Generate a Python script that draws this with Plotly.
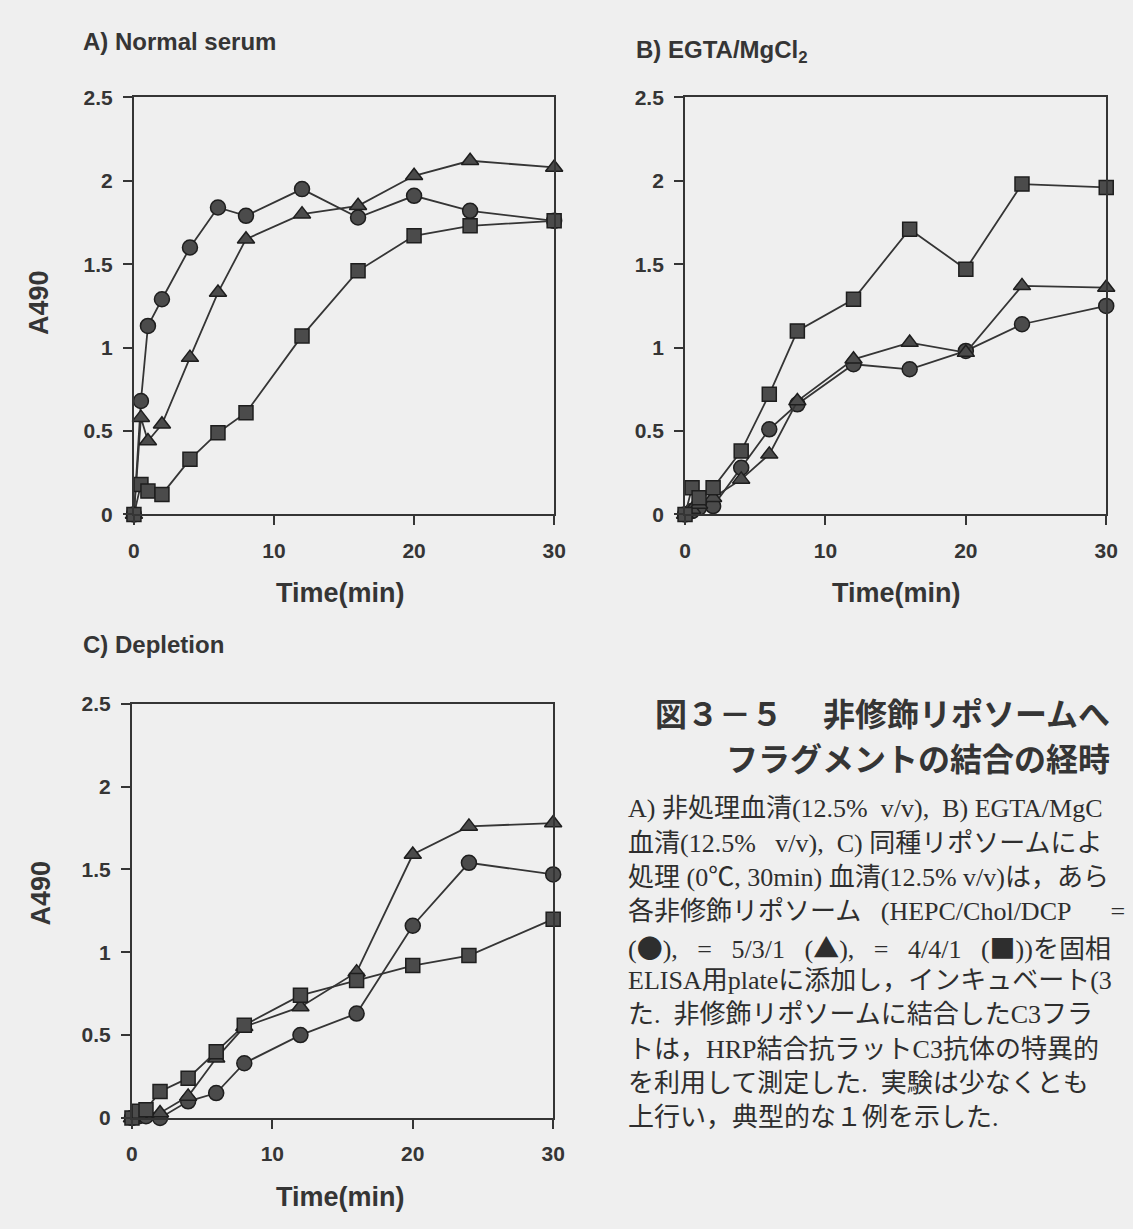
import plotly.graph_objects as go

# ---------------- data ----------------
time_min = [0, 0.5, 1, 2, 4, 6, 8, 12, 16, 20, 24, 30]

# A) Normal serum
a_circle = [0, 0.68, 1.13, 1.29, 1.60, 1.84, 1.79, 1.95, 1.78, 1.91, 1.82, 1.76]
a_triangle = [0, 0.58, 0.44, 0.54, 0.94, 1.33, 1.65, 1.80, 1.85, 2.03, 2.12, 2.08]
a_square = [0, 0.18, 0.14, 0.12, 0.33, 0.49, 0.61, 1.07, 1.46, 1.67, 1.73, 1.76]

# B) EGTA/MgCl2
b_circle = [0, 0.02, 0.04, 0.05, 0.28, 0.51, 0.66, 0.90, 0.87, 0.98, 1.14, 1.25]
b_triangle = [0, 0.03, 0.06, 0.10, 0.21, 0.36, 0.68, 0.93, 1.03, 0.97, 1.37, 1.36]
b_square = [0, 0.16, 0.10, 0.16, 0.38, 0.72, 1.10, 1.29, 1.71, 1.47, 1.98, 1.96]

# C) Depletion
c_circle = [0, 0.01, 0.01, 0.0, 0.10, 0.15, 0.33, 0.50, 0.63, 1.16, 1.54, 1.47]
c_triangle = [0, 0.02, 0.03, 0.03, 0.13, 0.36, 0.55, 0.67, 0.88, 1.59, 1.76, 1.78]
c_square = [0, 0.04, 0.05, 0.16, 0.24, 0.40, 0.56, 0.74, 0.83, 0.92, 0.98, 1.20]

x_ticks = [0, 10, 20, 30]
y_ticks = [0, 0.5, 1, 1.5, 2, 2.5]
y_ticktext = ["0", "0.5", "1", "1.5", "2", "2.5"]

panel_titles = ["A) Normal serum", "B) EGTA/MgCl<sub>2</sub>", "C) Depletion"]
x_title = "Time(min)"
y_title = "A490"

fig_title_head = "図３－５"
fig_title_1 = "非修飾リポソームへ"
fig_title_2 = "フラグメントの結合の経時"

NB = "\u00a0"
SYM = '<span style="font-family:Noto Sans CJK JP">{}</span>'
caption_lines = [
    "A)" + NB + "非処理血清(12.5%" + NB * 2 + "v/v)," + NB * 2 + "B)" + NB + "EGTA/MgC",
    "血清(12.5%" + NB * 3 + "v/v)," + NB * 2 + "C)" + NB + "同種リポソームによ",
    "処理 (0℃, 30min) 血清(12.5% v/v)は，あら",
    "各非修飾リポソーム" + NB * 3 + "(HEPC/Chol/DCP" + NB * 6 + "=",
    "(" + SYM.format("●") + ")," + NB * 3 + "=" + NB * 3 + "5/3/1" + NB * 3
    + "(" + SYM.format("▲") + ")," + NB * 3 + "=" + NB * 3 + "4/4/1" + NB * 3
    + "(" + SYM.format("■") + "))を固相",
    "ELISA用plateに添加し，インキュベート(3",
    "た." + NB * 2 + "非修飾リポソームに結合したC3フラ",
    "トは，HRP結合抗ラットC3抗体の特異的",
    "を利用して測定した." + NB * 2 + "実験は少なくとも",
    "上行い，典型的な１例を示した.",
]

# ---------------- layout helpers ----------------
W, H = 1133, 1229
INK = "#353535"
BG = "#efefef"
SANS = "Liberation Sans, Arial, sans-serif"
SERIF = "Liberation Serif, Noto Sans CJK JP, serif"
CJK = "Noto Sans CJK JP, sans-serif"


def fx(p):
    return p / W


def fy(p):
    return 1 - p / H


panels = [
    dict(x0=130, x1=557, y0=87, y1=512, data=(a_circle, a_triangle, a_square)),
    dict(x0=690, x1=1118, y0=87, y1=512, data=(b_circle, b_triangle, b_square)),
    dict(x0=128, x1=556, y0=705, y1=1127, data=(c_circle, c_triangle, c_square)),
]

symbols = ["circle", "triangle-up", "square"]
sizes = [15, 15, 14]

fig = go.Figure()
layout_axes = {}
for i, p in enumerate(panels):
    n = "" if i == 0 else str(i + 1)
    xref, yref = "x" + n, "y" + n
    for series, sym, sz in zip(p["data"], symbols, sizes):
        fig.add_trace(go.Scatter(
            x=time_min, y=series, xaxis=xref, yaxis=yref,
            mode="lines+markers", cliponaxis=False, showlegend=False,
            line=dict(color=INK, width=1.8),
            marker=dict(symbol=sym, size=sz, color="#4b4b4b",
                        line=dict(color="#1e1e1e", width=1.5)),
        ))
    common = dict(showline=True, linecolor=INK, linewidth=2, mirror=True,
                  showgrid=False, zeroline=False, ticks="outside",
                  ticklen=9, tickwidth=2, tickcolor=INK,
                  tickfont=dict(family=SANS, size=21, color=INK, weight="bold"))
    layout_axes["xaxis" + n] = dict(
        domain=[fx(p["x0"]), fx(p["x1"])], anchor=yref, range=[0, 30],
        tickvals=x_ticks, ticklabelstandoff=7, **common)
    layout_axes["yaxis" + n] = dict(
        domain=[fy(p["y1"]), fy(p["y0"])], anchor=xref, range=[0, 2.5],
        tickvals=y_ticks, ticktext=y_ticktext, ticklabelstandoff=6, **common)

ann = []
# panel titles
for txt, (x, y) in zip(panel_titles, [(76, 30), (638, 40), (76, 645)]):
    ann.append(dict(text=txt, x=fx(x), y=fy(y), xanchor="left", yanchor="middle",
                    font=dict(family=SANS, size=24, color=INK, weight="bold")))
# axis titles
for (x, y) in [(340, 592), (905, 592), (340, 1208)]:
    ann.append(dict(text=x_title, x=fx(x), y=fy(y), xanchor="center", yanchor="middle",
                    font=dict(family=SANS, size=27, color=INK, weight="bold")))
for (x, y) in [(34, 296), (36, 898)]:
    ann.append(dict(text=y_title, x=fx(x), y=fy(y), xanchor="center", yanchor="middle",
                    textangle=-90,
                    font=dict(family=SANS, size=27, color=INK, weight="bold")))

# figure caption title
title_font = dict(family=CJK, size=32, color=INK, weight="bold")
ann.append(dict(text=fig_title_head, x=fx(657), y=fy(713), xanchor="left",
                yanchor="middle", font=title_font))
ann.append(dict(text=fig_title_1, x=fx(828), y=fy(713), xanchor="left",
                yanchor="middle", font=title_font))
ann.append(dict(text=fig_title_2, x=fx(730), y=fy(759), xanchor="left",
                yanchor="middle", font=title_font))

# caption body
for k, line in enumerate(caption_lines):
    ann.append(dict(text=line, x=fx(630), y=fy(812 + k * 35.0), xanchor="left",
                    yanchor="middle",
                    font=dict(family=SERIF, size=26, color="#2e2e2e")))

for a in ann:
    a.update(xref="paper", yref="paper", showarrow=False)

fig.update_layout(
    width=W, height=H, margin=dict(l=0, r=0, t=0, b=0),
    paper_bgcolor=BG, plot_bgcolor=BG, annotations=ann, **layout_axes)

fig.write_html("out.html")
